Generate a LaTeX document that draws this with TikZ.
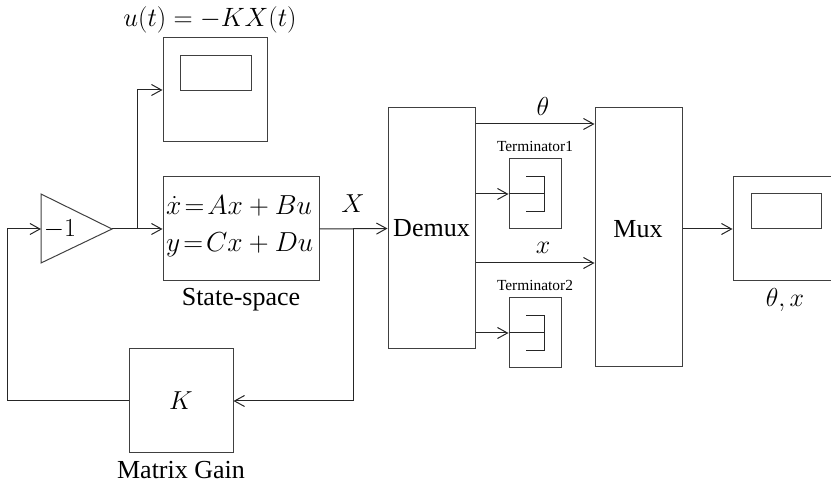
\RequirePackage{fix-cm}
\documentclass[tikz,border=0pt]{standalone}
\usepackage{fontspec}
\setmainfont{Liberation Serif}
\usetikzlibrary{arrows.meta}
\begin{document}
\begin{tikzpicture}[x=1pt,y={(0,-1pt)},
  box/.style={draw=black!75,line width=1pt,rectangle,inner sep=0pt,font=\fontsize{26}{30}\selectfont},
  conn/.style={draw=black!85,line width=1pt},
  arr/.style={conn,-{Straight Barb[length=10pt,width=11pt,line width=1pt]}},
  lbl/.style={inner sep=0pt,font=\fontsize{26}{30}\selectfont},
  tlbl/.style={inner sep=0pt,font=\fontsize{15.4}{18}\selectfont}]
\useasboundingbox (0,0) rectangle (831,486);
% gain triangle
\draw[draw=black!75,line width=1pt] (41,194) -- (112,229) -- (41,263) -- cycle;
\coordinate (gin) at (41,229);
\coordinate (gout) at (112,229);
\node[lbl] (gainlbl) at (60,229) {$-1$};
% scope 1
\node[box,minimum width=104pt,minimum height=104pt] (sc1) at (215,90) {};
\node[draw=black!75,line width=1pt,inner sep=0pt,minimum width=71pt,minimum height=35pt] (sc1in) at (215.5,73.5) {};
\node[lbl,font=\fontsize{26.5}{30}\selectfont] (ulbl) at (210,20) {$u(t) = -KX(t)$};
% state space
\node[box,minimum width=156pt,minimum height=104pt] (ss) at (241,229) {};
\node[lbl,anchor=west,align=left,font=\fontsize{27.5}{37}\selectfont] (sstext) at (166,226) {$\dot{x}\mkern2mu{=}\mkern2mu Ax+Bu$\\$y\mkern2mu{=}\mkern2mu Cx+Du$};
\node[lbl] (sslbl) at (241,300) {State-space};
% matrix gain
\node[box,minimum width=104pt,minimum height=104pt] (K) at (181,401) {$K$};
\node[lbl] (Klbl) at (181,470) {Matrix Gain};
% demux
\node[box,minimum width=87pt,minimum height=241pt] (demux) at (431.5,228.5) {Demux};
% mux
\node[box,minimum width=87pt,minimum height=259pt] (mux) at (638.5,237.5) {};
\node[lbl] (muxlbl) at (638,229) {Mux};
% terminators
\node[box,minimum width=52pt,minimum height=70pt] (t1) at (535,194) {};
\node[tlbl] (t1lbl) at (535,146) {Terminator1};
\node[box,minimum width=52pt,minimum height=70pt] (t2) at (535,333) {};
\node[tlbl] (t2lbl) at (535,285) {Terminator2};
\foreach \t in {t1,t2}{
  \draw[conn] ([xshift=-9pt,yshift=-17.5pt]\t.center) -- ([xshift=9pt,yshift=-17.5pt]\t.center) -- ([xshift=9pt,yshift=17.5pt]\t.center) -- ([xshift=-9pt,yshift=17.5pt]\t.center);
  \draw[conn] (\t.west) -- ([xshift=9pt]\t.center);
}
% scope 2
\node[box,minimum width=104pt,minimum height=104pt] (sc2) at (785,229) {};
\node[draw=black!75,line width=1pt,inner sep=0pt,minimum width=70pt,minimum height=35pt] (sc2in) at (786,211.5) {};
\node[lbl] (sc2lbl) at (785,300) {$\theta,x$};
% connectors
\coordinate (fb) at (7,401);
\coordinate (b1) at (137,229);
\coordinate (b2) at (353,229);
\draw[arr] (K.west) -- (fb) |- (gin);
\draw[arr] (gout) -- (ss.west);
\draw[arr] (b1) |- (sc1.west);
\draw[arr] (ss.east) -- (demux.west);
\draw[arr] (b2) |- (K.east);
\node[lbl] (Xlbl) at (353,204) {$X$};
\coordinate (d1) at (demux.east |- 0,124);
\coordinate (d3) at (demux.east |- 0,263);
\coordinate (m1) at (mux.west |- 0,124);
\coordinate (m3) at (mux.west |- 0,263);
\draw[arr] (d1) -- (m1);
\draw[arr] (d3) -- (m3);
\draw[arr] (demux.east |- t1.west) -- (t1.west);
\draw[arr] (demux.east |- t2.west) -- (t2.west);
\node[lbl] (thlbl) at (543,106) {$\theta$};
\node[lbl] (xlbl) at (543,248) {$x$};
\coordinate (mo) at (mux.east |- 0,229);
\draw[arr] (mo) -- (sc2.west);
\end{tikzpicture}
\end{document}
